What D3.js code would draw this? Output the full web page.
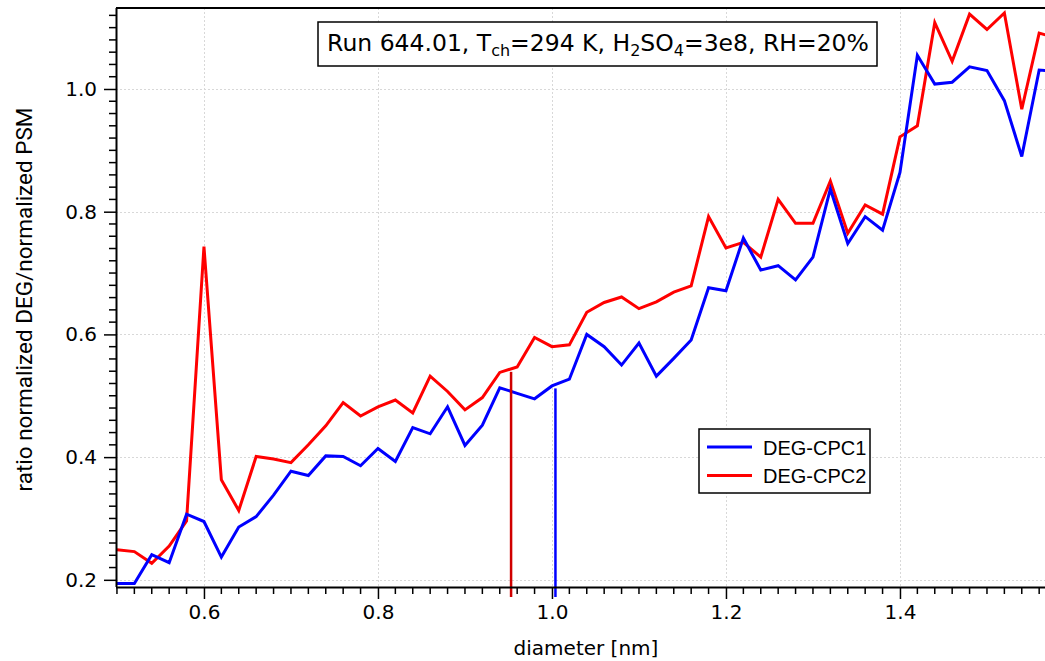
<!DOCTYPE html>
<html><head><meta charset="utf-8">
<script src="https://cdn.jsdelivr.net/npm/d3@7"></script>
<style>body{margin:0;background:#fff}svg{display:block}</style>
</head><body>
<svg id="c" width="1045" height="661"></svg>
<script>
const diameters = [0.50,0.52,0.54,0.56,0.58,0.60,0.62,0.64,0.66,0.68,0.70,0.72,0.74,0.76,0.78,0.80,0.82,0.84,0.86,0.88,0.90,0.92,0.94,0.96,0.98,1.00,1.02,1.04,1.06,1.08,1.10,1.12,1.14,1.16,1.18,1.20,1.22,1.24,1.26,1.28,1.30,1.32,1.34,1.36,1.38,1.40,1.42,1.44,1.46,1.48,1.50,1.52,1.54,1.56,1.58];
const cpc1 = [0.194,0.194,0.241,0.228,0.307,0.295,0.237,0.286,0.303,0.338,0.377,0.370,0.402,0.401,0.386,0.414,0.393,0.448,0.438,0.482,0.419,0.452,0.513,0.504,0.495,0.516,0.527,0.600,0.580,0.550,0.586,0.532,0.561,0.591,0.676,0.671,0.757,0.705,0.712,0.689,0.726,0.837,0.748,0.792,0.770,0.864,1.055,1.008,1.011,1.036,1.030,0.981,0.890,1.031,1.029];
const cpc2 = [0.249,0.246,0.227,0.255,0.296,0.743,0.363,0.313,0.401,0.397,0.391,0.420,0.451,0.489,0.467,0.482,0.493,0.472,0.532,0.507,0.477,0.497,0.538,0.547,0.595,0.580,0.583,0.636,0.652,0.661,0.642,0.653,0.669,0.679,0.792,0.741,0.750,0.726,0.820,0.781,0.781,0.850,0.765,0.811,0.796,0.922,0.940,1.108,1.045,1.122,1.097,1.124,0.967,1.091,1.083];
const seriesNames = ["DEG-CPC1","DEG-CPC2"];
const seriesColors = ["#0000ff","#ff0000"];
const markerX = [1.004, 0.953];      // vertical markers (CPC1, CPC2)
const markerTop = [0.512, 0.539];
const markerBottom = 0.172;
const markerColors = ["#0000ff","#d00000"];
const xMajorTicks = [0.6,0.8,1.0,1.2,1.4];
const yMajorTicks = [0.2,0.4,0.6,0.8,1.0];
const xTickLabels = ["0.6","0.8","1.0","1.2","1.4"];
const yTickLabels = ["0.2","0.4","0.6","0.8","1.0"];

const L=116, R=1045, T=8, B=587;
const svg = d3.select("#c");
const x = d3.scaleLinear().domain([0.4989,1.5667]).range([L,R]);
const y = d3.scaleLinear().domain([0.1883,1.132]).range([B,T]);

// grid
const grid = svg.append("g").attr("stroke","#d8d8d8").attr("stroke-width",1).attr("stroke-dasharray","2,2");
grid.selectAll(".gx").data(xMajorTicks).join("line")
  .attr("x1",d=>Math.round(x(d))+0.5).attr("x2",d=>Math.round(x(d))+0.5).attr("y1",T).attr("y2",B);
grid.selectAll(".gy").data(yMajorTicks).join("line")
  .attr("y1",d=>Math.round(y(d))+0.5).attr("y2",d=>Math.round(y(d))+0.5).attr("x1",L).attr("x2",R);

// clip
svg.append("clipPath").attr("id","clip").append("rect").attr("x",L).attr("y",T).attr("width",R-L).attr("height",B-T);

const line = d3.line().x((d,i)=>x(diameters[i])).y(d=>y(d));
const plot = svg.append("g").attr("clip-path","url(#clip)");
[[cpc2,1],[cpc1,0]].forEach(([s,idx])=>{
  plot.append("path").datum(s).attr("d",line).attr("fill","none")
    .attr("stroke",seriesColors[idx]).attr("stroke-width",3).attr("stroke-linejoin","miter");
});

// vertical markers
markerX.forEach((mx,i)=>{
  svg.append("line").attr("x1",x(mx)).attr("x2",x(mx)).attr("y1",y(markerTop[i])).attr("y2",y(markerBottom))
    .attr("stroke",markerColors[i]).attr("stroke-width",2.5);
});

// axes
const font = "'DejaVu Sans', sans-serif";
const xAxis = d3.axisBottom(x).tickValues(xMajorTicks).tickSize(12).tickFormat((d,i)=>xTickLabels[i]).tickPadding(6);
const gx = svg.append("g").attr("transform",`translate(0,${B})`).call(xAxis);
const xMinor = d3.range(0.50,1.5667,0.02).filter(v=>!xMajorTicks.some(t=>Math.abs(t-v)<1e-6));
gx.selectAll(".minor").data(xMinor).join("line").attr("class","minor")
  .attr("x1",d=>x(d)).attr("x2",d=>x(d)).attr("y1",0).attr("y2",7).attr("stroke","#000").attr("stroke-width",1.5);
const yAxis = d3.axisLeft(y).tickValues(yMajorTicks).tickSize(12).tickFormat((d,i)=>yTickLabels[i]).tickPadding(7);
const gy = svg.append("g").attr("transform",`translate(${L},0)`).call(yAxis);
const yMinor = d3.range(0.20,1.13,0.02).filter(v=>!yMajorTicks.some(t=>Math.abs(t-v)<1e-6));
gy.selectAll(".minor").data(yMinor).join("line").attr("class","minor")
  .attr("y1",d=>y(d)).attr("y2",d=>y(d)).attr("x1",0).attr("x2",-7).attr("stroke","#000").attr("stroke-width",1.5);
[gx,gy].forEach(g=>{
  g.select(".domain").attr("stroke","#000").attr("stroke-width",2);
  g.selectAll(".tick line").attr("stroke","#000").attr("stroke-width",1.5);
  g.selectAll("text").attr("font-family",font).attr("font-size",20).attr("fill","#000");
});
gx.select(".domain").attr("d",`M${L},0.5H${R}`);
gy.select(".domain").attr("d",`M0.5,${B}V${T}`);
// top frame line
svg.append("line").attr("x1",L).attr("x2",R).attr("y1",T).attr("y2",T).attr("stroke","#000").attr("stroke-width",2);

// axis titles
svg.append("text").attr("x",586).attr("y",655).attr("text-anchor","middle")
  .attr("font-family",font).attr("font-size",20).text("diameter [nm]");
svg.append("text").attr("transform",`translate(32,${(T+B)/2+2}) rotate(-90)`).attr("text-anchor","middle")
  .attr("font-family","Roboto,'Liberation Sans Narrow',sans-serif").attr("font-size",22.5)
  .text("ratio normalized DEG/normalized PSM");

// title box
svg.append("rect").attr("x",318).attr("y",22).attr("width",559).attr("height",44)
  .attr("fill","#fff").attr("stroke","#000").attr("stroke-width",1.5);
const t = svg.append("text").attr("x",598).attr("y",51).attr("text-anchor","middle")
  .attr("font-family",font).attr("font-size",23.5);
const parts = [["Run 644.01, T",0],["ch",1],["=294 K, H",0],["2",1],["SO",0],["4",1],["=3e8, RH=20%",0]];
parts.forEach((p,i)=>{
  const prev = i>0?parts[i-1][1]:0;
  const ts = t.append("tspan").text(p[0]).attr("dy", p[1]&&!prev?5:(!p[1]&&prev?-5:0));
  if(p[1]) ts.attr("font-size",16);
});

// legend
const lg = svg.append("g");
lg.append("rect").attr("x",699).attr("y",429).attr("width",171).attr("height",64)
  .attr("fill","#fff").attr("stroke","#000").attr("stroke-width",1.5);
seriesNames.forEach((n,i)=>{
  const yy = 447 + i*28.5;
  lg.append("line").attr("x1",707).attr("x2",752).attr("y1",yy).attr("y2",yy)
    .attr("stroke",seriesColors[i]).attr("stroke-width",3);
  lg.append("text").attr("x",763).attr("y",yy+7.5).attr("font-family","'Liberation Sans',Arial,sans-serif")
    .attr("font-size",20).text(n);
});
</script>
</body></html>
